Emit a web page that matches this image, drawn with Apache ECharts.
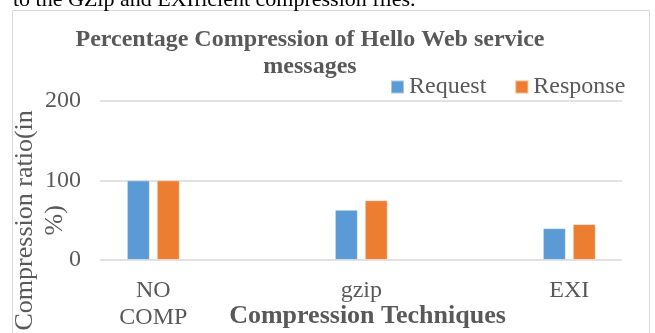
<!DOCTYPE html>
<html>
<head>
<meta charset="utf-8">
<script src="https://cdn.jsdelivr.net/npm/echarts@6/dist/echarts.min.js"></script>
<style>
  html, body { margin: 0; padding: 0; background: #fff; }
  #chart { width: 655px; height: 333px; }
</style>
</head>
<body>
<div id="chart"></div>
<script>
// categories + values
const categories = ["NO\nCOMP", "gzip", "EXI"];
const requestValues = [100, 63, 40];
const responseValues = [100, 75, 45];
const yTicks = { min: 0, max: 200, interval: 100 };

const font = "Liberation Serif";
const grey = "#595959";

const chart = echarts.init(document.getElementById("chart"));

chart.setOption({
  animation: false,
  backgroundColor: "#fff",
  textStyle: { fontFamily: font },
  color: ["#5B9BD5", "#ED7D31"],
  title: {
    text: "Percentage Compression of Hello Web service\nmessages",
    left: 305,
    top: 21,
    textAlign: "center",
    textStyle: {
      fontFamily: font,
      fontSize: 24,
      fontWeight: "bold",
      color: grey,
      lineHeight: 27,
    },
  },
  legend: {
    left: 385,
    top: 70,
    icon: "rect",
    itemWidth: 13,
    itemHeight: 13,
    itemGap: 28,
    textStyle: { fontFamily: font, fontSize: 24, color: grey },
    data: ["Request", "Response"],
  },
  // frame + the cut-off body text above the chart
  graphic: [
    {
      type: "rect",
      shape: { x: 12.5, y: 10.5, width: 637, height: 340 },
      style: { fill: "none", stroke: "#d9d9d9", lineWidth: 1 },
      silent: true,
    },
    {
      type: "text",
      left: 13,
      top: -11,
      style: {
        text: "to the GZip and EXIficient compression files.",
        font: "22px 'Liberation Serif'",
        fill: "#000",
      },
      silent: true,
    },
  ],
  grid: [
    // bars
    { left: 49.3, width: 624, top: 100.7, bottom: 73, outerBoundsMode: "none" },
    // gridlines and value labels
    { left: 100, right: 33, top: 100.7, bottom: 73, outerBoundsMode: "none" },
  ],
  xAxis: [
    {
      type: "category",
      gridIndex: 0,
      data: categories,
      axisLine: { show: false },
      axisTick: { show: false },
      axisLabel: {
        margin: 17,
        fontFamily: font,
        fontSize: 24,
        lineHeight: 27,
        color: grey,
      },
    },
    {
      type: "value",
      gridIndex: 1,
      min: 0,
      max: 1,
      axisLine: { show: false },
      axisTick: { show: false },
      axisLabel: { show: false },
      splitLine: { show: false },
      name: "Compression Techniques",
      nameLocation: "middle",
      nameGap: 43,
      nameMoveOverlap: false,
      nameTextStyle: {
        fontFamily: font,
        fontSize: 26,
        fontWeight: "bold",
        color: grey,
        padding: [0, 0, 0, 13],
      },
    },
  ],
  yAxis: [
    {
      type: "value",
      gridIndex: 0,
      min: yTicks.min,
      max: yTicks.max,
      interval: yTicks.interval,
      axisLine: { show: false },
      axisTick: { show: false },
      axisLabel: { show: false },
      splitLine: { show: false },
    },
    {
      type: "value",
      gridIndex: 1,
      min: yTicks.min,
      max: yTicks.max,
      interval: yTicks.interval,
      axisLine: { show: false },
      axisTick: { show: false },
      axisLabel: {
        margin: 19,
        fontFamily: font,
        fontSize: 24,
        color: grey,
      },
      splitLine: { lineStyle: { color: "#d9d9d9", width: 1.5 } },
      name: "Compression ratio(in\n%)",
      nameLocation: "middle",
      nameRotate: 90,
      nameGap: 30,
      nameMoveOverlap: false,
      nameTextStyle: {
        fontFamily: font,
        fontSize: 26,
        lineHeight: 30,
        color: grey,
        padding: [0, 80, 0, 0],
      },
    },
  ],
  series: [
    {
      name: "Request",
      type: "bar",
      xAxisIndex: 0,
      yAxisIndex: 0,
      barWidth: 23,
      barGap: "30%",
      itemStyle: { borderColor: "rgba(255,255,255,0.45)", borderWidth: 1 },
      data: requestValues,
    },
    {
      name: "Response",
      type: "bar",
      xAxisIndex: 0,
      yAxisIndex: 0,
      barWidth: 23,
      barGap: "30%",
      itemStyle: { borderColor: "rgba(255,255,255,0.45)", borderWidth: 1 },
      data: responseValues,
    },
  ],
});
</script>
</body>
</html>
